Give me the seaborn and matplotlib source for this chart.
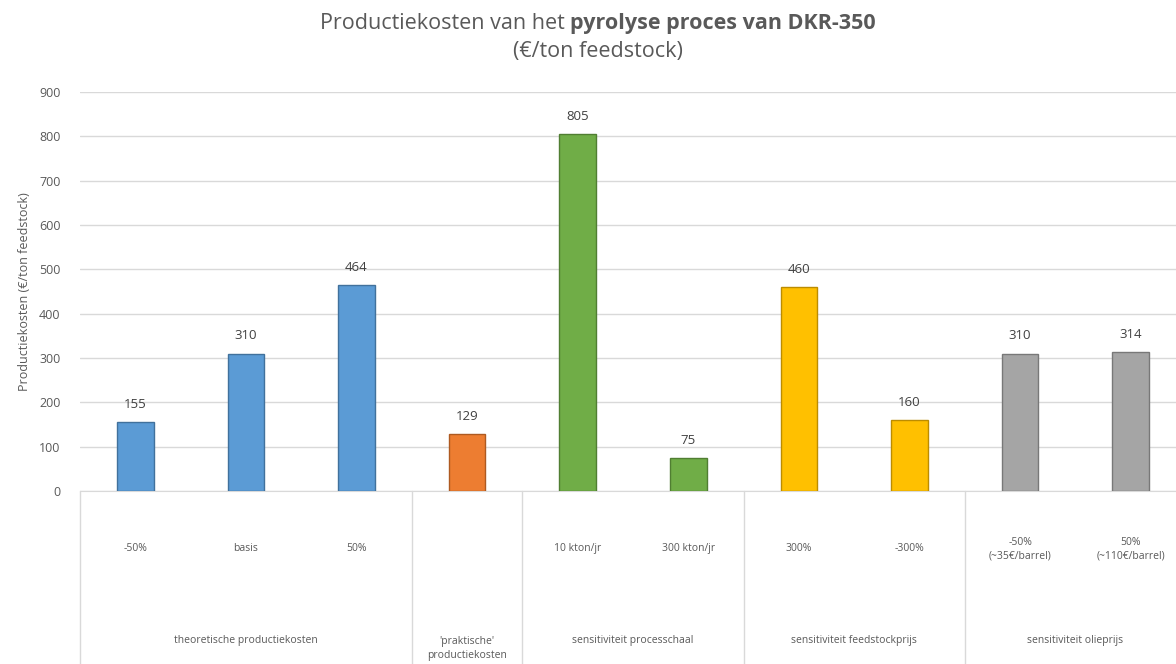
import numpy as np
import pandas as pd
import matplotlib
matplotlib.use("Agg")
import matplotlib.pyplot as plt
import matplotlib.transforms as mtransforms
import seaborn as sns

# Data
cases = ["-50%", "basis", "50%", "praktisch", "10 kton/jr", "300 kton/jr",
         "300%", "-300%", "-50%\n(~35€/barrel)", "50%\n(~110€/barrel)"]
case_labels = ["-50%", "basis", "50%", "", "10 kton/jr", "300 kton/jr",
               "300%", "-300%", "-50%\n(~35€/barrel)", "50%\n(~110€/barrel)"]
groups = ["theoretische productiekosten"] * 3 + ["'praktische'\nproductiekosten"] + \
         ["sensitiviteit processchaal"] * 2 + ["sensitiviteit feedstockprijs"] * 2 + \
         ["sensitiviteit olieprijs"] * 2
costs = [155, 310, 464, 129, 805, 75, 460, 160, 310, 314]

group_colors = ["#5B9BD5", "#ED7D31", "#70AD47", "#FFC000", "#A5A5A5"]
edge_colors = ["#41719C", "#AE5A21", "#507E32", "#BC8C00", "#787878"]

df = pd.DataFrame({"case": cases, "group": groups, "cost": costs})

sns.set_style("white")
plt.rcParams["font.family"] = ["Open Sans", "DejaVu Sans"]

fig = plt.figure(figsize=(11.76, 6.64), dpi=100)
ax = fig.add_axes([0.068, 0.2605, 0.9405, 0.601])

sns.barplot(data=df, x="case", y="cost", hue="group", palette=group_colors,
            saturation=1, width=0.33, dodge=False, legend=False, ax=ax, zorder=3)

# darker bar edges per group
for container, ec in zip(ax.containers, edge_colors):
    for bar in container:
        bar.set_edgecolor(ec)
        bar.set_linewidth(1)

ax.set_ylim(0, 900)
ax.set_xlim(-0.5, len(cases) - 0.5)
ax.set_yticks(np.arange(0, 901, 100))
ax.yaxis.grid(True, color="#D9D9D9", linewidth=1, zorder=0)
ax.tick_params(axis="y", length=0, labelsize=9, labelcolor="#595959", pad=14)
ax.tick_params(axis="x", length=0, labelbottom=False)
for s in ["left", "right", "top"]:
    ax.spines[s].set_visible(False)
ax.spines["bottom"].set_color("#D9D9D9")
ax.set_xlabel("")
ax.set_ylabel("Productiekosten (€/ton feedstock)", fontsize=9, color="#595959", labelpad=6)

# value labels
for i, v in enumerate(costs):
    ax.annotate(str(v), (i, v), xytext=(0, 8), textcoords="offset points",
                ha="center", va="bottom", fontsize=9.5, color="#404040")

# multi-level category axis
trans = mtransforms.blended_transform_factory(ax.transData, ax.transAxes)
for i, lab in enumerate(case_labels):
    ax.text(i, -0.145, lab, transform=trans, ha="center", va="center",
            fontsize=7.5, color="#595959", linespacing=1.3)

group_names = list(dict.fromkeys(groups))
bounds = [-0.5]
for i in range(1, len(groups)):
    if groups[i] != groups[i - 1]:
        bounds.append(i - 0.5)
bounds.append(len(groups) - 0.5)
for b in bounds[:-1]:
    ax.plot([b, b], [0, -0.45], transform=trans, color="#D9D9D9", lw=1, clip_on=False)
for j, g in enumerate(group_names):
    mid = (bounds[j] + bounds[j + 1]) / 2
    if "\n" in g:
        ax.text(mid, -0.395, g, transform=trans, ha="center", va="center",
                fontsize=7.5, color="#595959", linespacing=1.3)
    else:
        ax.text(mid, -0.375, g, transform=trans, ha="center", va="center",
                fontsize=7.5, color="#595959")

# title with a bold part
fig.canvas.draw()
renderer = fig.canvas.get_renderer()
t1 = fig.text(0, 0.965, "Productiekosten van het ", fontsize=15.5, color="#595959", va="center")
t2 = fig.text(0, 0.965, "pyrolyse proces van DKR-350", fontsize=15.5, color="#595959",
              fontweight="bold", va="center")
w1 = t1.get_window_extent(renderer).width
w2 = t2.get_window_extent(renderer).width
W = fig.get_figwidth() * fig.dpi
x0 = 0.5085 - (w1 + w2) / 2 / W
t1.set_x(x0)
t2.set_x(x0 + w1 / W)
fig.text(0.5085, 0.922, "(€/ton feedstock)", fontsize=15.5, color="#595959",
         ha="center", va="center")

fig.savefig("out.png", dpi=100)
